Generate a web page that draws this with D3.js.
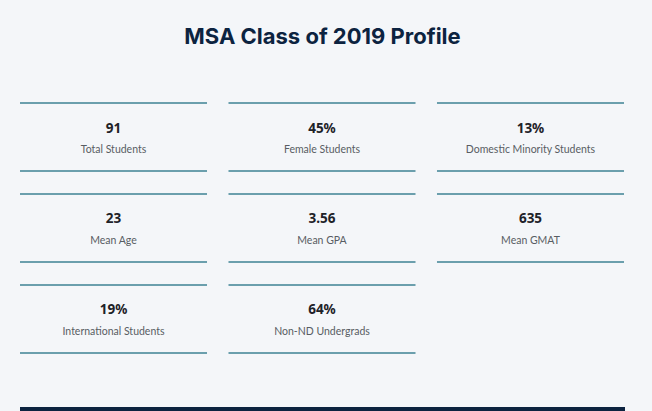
<!DOCTYPE html>
<html>
<head>
<meta charset="utf-8">
<script src="https://cdn.jsdelivr.net/npm/d3@7"></script>
<style>
  html, body { margin: 0; padding: 0; background: #f4f6f9; overflow: hidden; }
  svg { display: block; }
</style>
</head>
<body>
<svg id="chart" width="652" height="411"></svg>
<script>
// MSA class profile — stat tiles in a 3-column grid
var TITLE = 'MSA Class of 2019 Profile';
var VALUES = ['91', '45%', '13%', '23', '3.56', '635', '19%', '64%'];
var LABELS = ['Total Students', 'Female Students', 'Domestic Minority Students',
  'Mean Age', 'Mean GPA', 'Mean GMAT', 'International Students', 'Non-ND Undergrads'];
var COLS = [0, 1, 2], ROWS = [0, 1, 2];

(function () {
  var W = 652, H = 411;
  var svg = d3.select('#chart');
  svg.append('rect').attr('width', W).attr('height', H).attr('fill', '#f4f6f9');

  var x = d3.scaleBand().domain(COLS).range([20, 624]).paddingInner(0.103);
  var y = d3.scaleBand().domain(ROWS).range([103, 353]).paddingInner(0.2527);

  svg.append('text').attr('x', 322.5).attr('y', 44).attr('text-anchor', 'middle')
    .attr('font-family', 'Inter, "Noto Sans", sans-serif').attr('font-weight', 700)
    .attr('font-size', 22).attr('fill', '#0c2340').text(TITLE);

  var tiles = VALUES.map(function (v, i) { return { value: v, label: LABELS[i], col: i % 3, row: Math.floor(i / 3) }; });
  var g = svg.append('g').selectAll('g').data(tiles).enter().append('g')
    .attr('transform', function (d) { return 'translate(' + x(d.col) + ',' + y(d.row) + ')'; });

  var bw = x.bandwidth(), bh = y.bandwidth();
  // top and bottom rules
  [0, bh].forEach(function (yy) {
    g.append('line').attr('x1', 0).attr('x2', bw).attr('y1', yy).attr('y2', yy)
      .attr('stroke', '#6b9fad').attr('stroke-width', 2);
  });
  g.append('text').attr('x', bw / 2).attr('y', 29.5).attr('text-anchor', 'middle')
    .attr('font-family', '"Noto Sans", sans-serif').attr('font-weight', 700)
    .attr('font-size', 13.5).attr('fill', '#1e2228').text(function (d) { return d.value; });
  g.append('text').attr('x', bw / 2).attr('y', 50).attr('text-anchor', 'middle')
    .attr('font-family', 'Lato, "Noto Sans", sans-serif').attr('font-weight', 400)
    .attr('font-size', 10.5).attr('fill', '#585d63').text(function (d) { return d.label; });

  // dark footer band
  svg.append('rect').attr('x', 20).attr('y', 407).attr('width', 605).attr('height', 10).attr('fill', '#0c2340');
})();
</script>
</body>
</html>
